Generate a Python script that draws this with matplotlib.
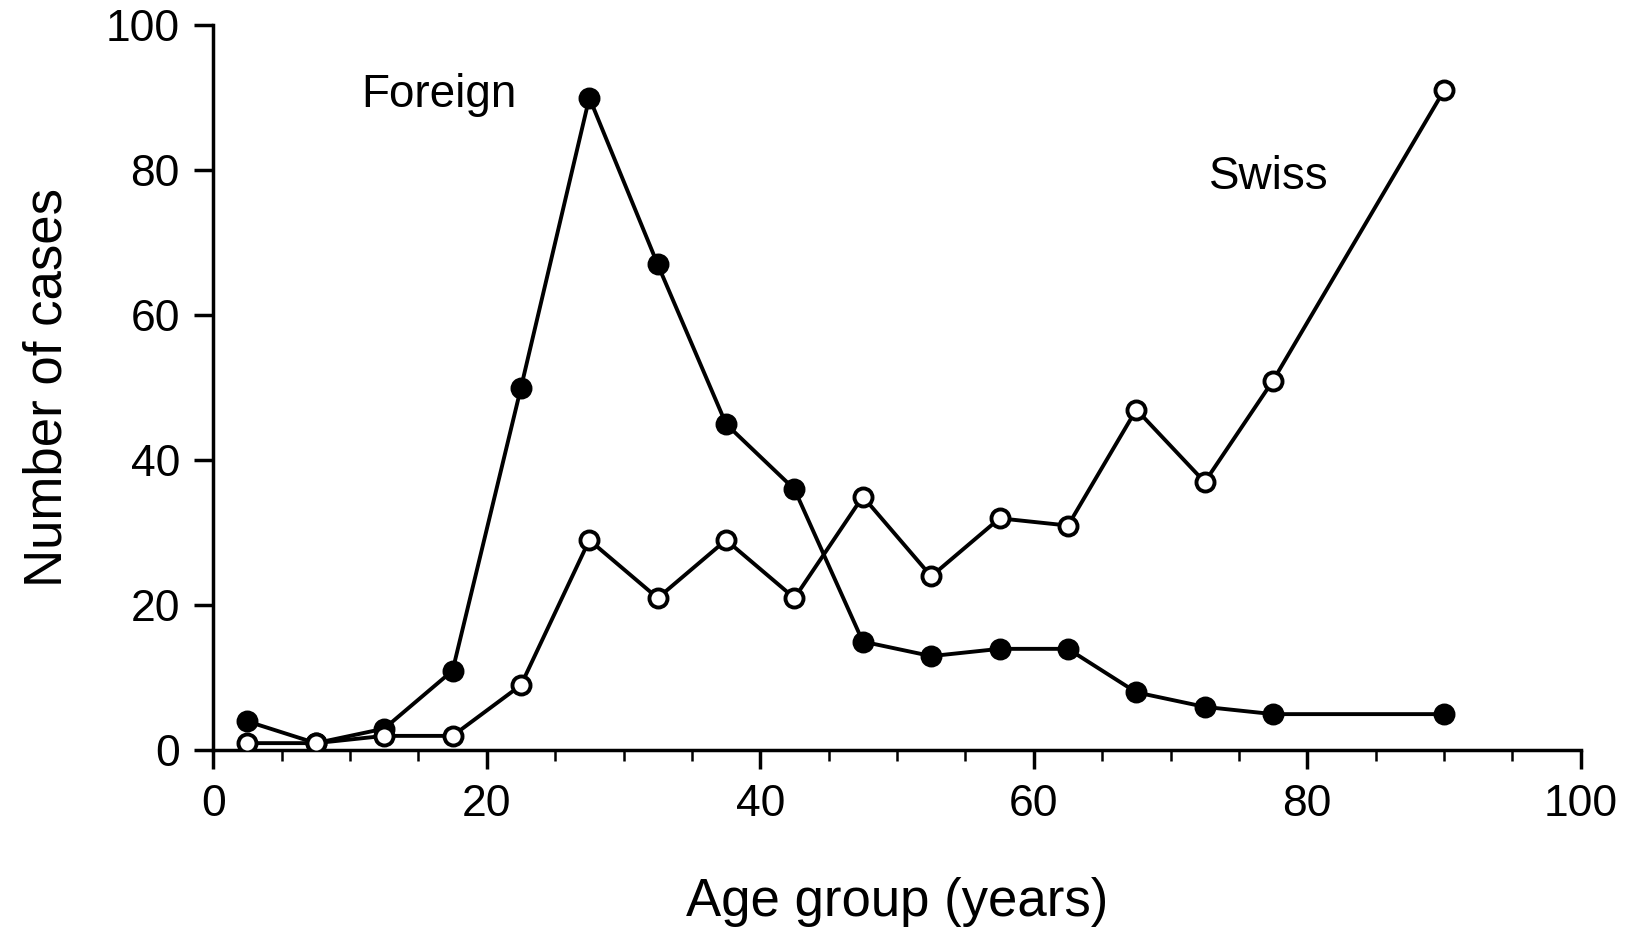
import numpy as np
import matplotlib
matplotlib.use("Agg")
import matplotlib.pyplot as plt
from matplotlib.ticker import MultipleLocator

plt.rcParams["font.family"] = ["Liberation Sans", "DejaVu Sans"]

# Age group midpoints (years)
age = [2.5, 7.5, 12.5, 17.5, 22.5, 27.5, 32.5, 37.5, 42.5, 47.5,
       52.5, 57.5, 62.5, 67.5, 72.5, 77.5, 90]
foreign = [4, 1, 3, 11, 50, 90, 67, 45, 36, 15, 13, 14, 14, 8, 6, 5, 5]
swiss = [1, 1, 2, 2, 9, 29, 21, 29, 21, 35, 24, 32, 31, 47, 37, 51, 91]

fig = plt.figure(figsize=(16.28, 9.31), dpi=100)
ax = fig.add_axes([0.131, 0.194, 0.840, 0.779])

ax.plot(age, foreign, color="black", lw=2.8, marker="o", ms=13,
        mfc="black", mec="black", mew=2.8, zorder=3)
ax.plot(age, swiss, color="black", lw=2.8, marker="o", ms=13,
        mfc="white", mec="black", mew=2.8, zorder=4)

ax.text(16.5, 90.3, "Foreign", fontsize=33, ha="center", va="center")
ax.text(77.2, 79.1, "Swiss", fontsize=33, ha="center", va="center")

ax.set_xlim(0, 100)
ax.set_ylim(0, 100)
ax.xaxis.set_major_locator(MultipleLocator(20))
ax.xaxis.set_minor_locator(MultipleLocator(5))
ax.yaxis.set_major_locator(MultipleLocator(20))

for side in ["top", "right"]:
    ax.spines[side].set_visible(False)
for side in ["left", "bottom"]:
    ax.spines[side].set_linewidth(2.5)

ax.tick_params(axis="both", which="major", direction="out", length=14,
               width=2.5, labelsize=32, pad=10)
ax.tick_params(axis="x", which="minor", direction="out", length=8, width=1.8)

ax.set_xlabel("Age group (years)", fontsize=38, labelpad=38)
ax.set_ylabel("Number of cases", fontsize=38, labelpad=24)

fig.savefig("out.png", dpi=100)
